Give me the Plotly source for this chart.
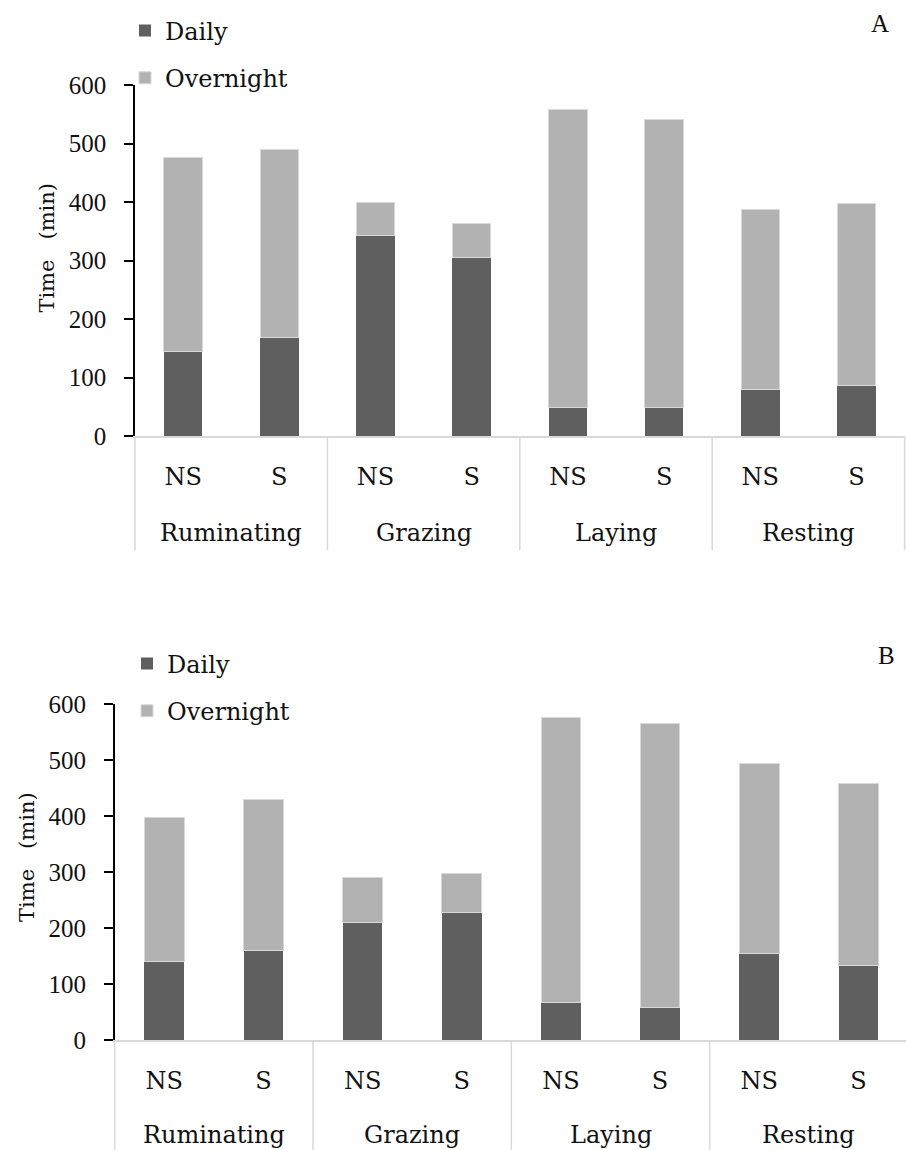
import plotly.graph_objects as go

groups = ["Ruminating", "Grazing", "Laying", "Resting"]
treatments = ["NS", "S"]
y_ticks = [0, 100, 200, 300, 400, 500, 600]

# Panel A (min)
daily_a = [144, 168, 342, 305, 48, 48, 79, 86]
overnight_a = [332, 321, 58, 58, 510, 493, 309, 312]
# Panel B (min)
daily_b = [140, 161, 211, 229, 68, 58, 155, 133]
overnight_b = [258, 269, 80, 69, 508, 507, 339, 325]

W, H = 906, 1150
DARK = "#5f5f5f"
LIGHT = "#b2b2b2"
GRID = "#d9d9d9"
TXT = "#111111"
TEXT_FONT = "DejaVu Serif"
NUM_FONT = "Liberation Serif"

n_t = len(treatments)
positions = list(range(len(groups) * n_t))
tick_text = [t for _ in groups for t in treatments]
group_centers = [g * n_t + (n_t - 1) / 2 for g in range(len(groups))]
boundaries = [g * n_t - 0.5 for g in range(len(groups) + 1)]


def px_x(p):
    return p / W


def px_y(p):
    return 1 - p / H


fig = go.Figure()
panels = [
    dict(xa="x", ya="y", leg="legend", d=daily_a, o=overnight_a,
         xdom=(135, 904.6), ydom=(436, 85), xr=(-0.5, 7.5),
         leg_xy=(125, 8.5), label="A", label_xy=(880, 23), title_xy=(47, 247.6),
         div_bottom=550, glabel_y=533),
    dict(xa="x2", ya="y2", leg="legend2", d=daily_b, o=overnight_b,
         xdom=(114.7, 906), ydom=(1040.3, 704.3), xr=(-0.5, 7.48),
         leg_xy=(127, 641.5), label="B", label_xy=(886.7, 655), title_xy=(27, 857),
         div_bottom=1160, glabel_y=1134.5),
]

legcommon = dict(font=dict(family=TEXT_FONT, size=24, color=TXT), bgcolor="rgba(0,0,0,0)",
                 xanchor="left", yanchor="top", tracegroupgap=13, traceorder="grouped",
                 orientation="v")
xcommon = dict(showline=True, linecolor=GRID, linewidth=1.5, ticks="", showgrid=False,
               zeroline=False, tickvals=positions, ticktext=tick_text, ticklabelstandoff=18,
               tickfont=dict(family=TEXT_FONT, size=24, color=TXT))
ycommon = dict(range=[0, 600], tickvals=y_ticks, showline=True, linecolor="black", linewidth=1.5,
               ticks="outside", ticklen=9, tickwidth=1.5, tickcolor="black",
               showgrid=False, zeroline=False, ticklabelstandoff=13,
               tickfont=dict(family=NUM_FONT, size=25, color=TXT))

layout = {}
annotations = []
shapes = []
for i, p in enumerate(panels):
    fig.add_trace(go.Bar(x=positions, y=p["d"], name="Daily", xaxis=p["xa"], yaxis=p["ya"],
                         legend=p["leg"], legendgroup=f"d{i}",
                         marker=dict(color=DARK, line=dict(width=0))))
    fig.add_trace(go.Bar(x=positions, y=p["o"], name="Overnight", xaxis=p["xa"], yaxis=p["ya"],
                         legend=p["leg"], legendgroup=f"o{i}",
                         marker=dict(color=LIGHT, line=dict(color=GRID, width=1))))
    xkey = "xaxis" if p["xa"] == "x" else "xaxis" + p["xa"][1:]
    ykey = "yaxis" if p["ya"] == "y" else "yaxis" + p["ya"][1:]
    layout[xkey] = dict(xcommon, domain=[px_x(p["xdom"][0]), min(1.0, px_x(p["xdom"][1]))],
                        anchor=p["ya"], range=list(p["xr"]))
    layout[ykey] = dict(ycommon, domain=[px_y(p["ydom"][0]), px_y(p["ydom"][1])], anchor=p["xa"])
    layout[p["leg"]] = dict(legcommon, x=px_x(p["leg_xy"][0]), y=px_y(p["leg_xy"][1]))
    annotations.append(dict(text=p["label"], x=px_x(p["label_xy"][0]), y=px_y(p["label_xy"][1]),
                            xref="paper", yref="paper", xanchor="center", yanchor="middle",
                            showarrow=False, font=dict(family=NUM_FONT, size=25, color=TXT)))
    annotations.append(dict(text="Time\u00a0\u00a0\u00a0(min)", x=px_x(p["title_xy"][0]),
                            y=px_y(p["title_xy"][1]), xref="paper", yref="paper",
                            xanchor="center", yanchor="middle", showarrow=False, textangle=-90,
                            font=dict(family=TEXT_FONT, size=21, color=TXT)))
    for g, c in zip(groups, group_centers):
        annotations.append(dict(text=g, x=c, y=px_y(p["glabel_y"]), xref=p["xa"], yref="paper",
                                xanchor="center", yanchor="middle", showarrow=False,
                                font=dict(family=TEXT_FONT, size=24, color=TXT)))
    r0, r1 = p["xr"]
    for b in boundaries:
        f = (b - r0) / (r1 - r0)
        shapes.append(dict(type="line", xref=p["xa"] + " domain", yref="paper",
                           x0=f, x1=f, y0=px_y(p["ydom"][0]), y1=px_y(p["div_bottom"]),
                           line=dict(color=GRID, width=1.5)))

fig.update_layout(
    width=W, height=H, margin=dict(l=0, r=0, t=0, b=0, autoexpand=False),
    paper_bgcolor="white", plot_bgcolor="white",
    barmode="stack", bargap=0.6, showlegend=True,
    annotations=annotations, shapes=shapes, **layout,
)

fig.write_html("out.html", config={"displayModeBar": False},
               post_script="document.body.style.margin='0';document.body.style.overflow='hidden';")
